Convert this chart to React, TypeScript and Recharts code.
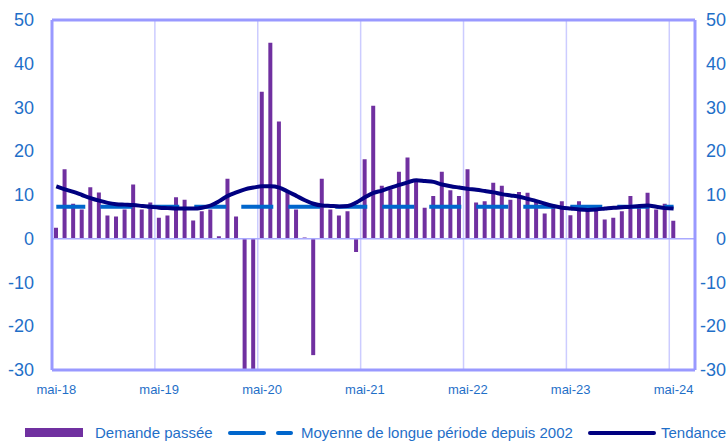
import React from 'react';
import {
  ComposedChart,
  Bar,
  Line,
  XAxis,
  YAxis,
  CartesianGrid,
  ReferenceLine,
} from 'recharts';

// Monthly values, mai-18 .. mai-24
const demandePassee = [
  2.5, 15.9, 8.0, 6.7, 11.8, 10.6, 5.3, 5.1, 6.7, 12.4, 6.7, 8.3,
  4.8, 5.3, 9.5, 8.9, 4.2, 6.3, 6.7, 0.6, 13.7, 5.1, -33, -31,
  33.6, 44.8, 26.8, 10.5, 6.7, 0.3, -26.6, 13.7, 6.7, 5.3, 6.3, -3.0,
  18.2, 30.4, 12.1, 11.3, 15.3, 18.6, 13.6, 7.1, 9.8, 15.3, 11.1, 9.8,
  15.9, 8.3, 8.6, 12.8, 12.1, 8.9, 10.7, 10.5, 8.5, 5.8, 7.1, 8.6,
  5.4, 8.6, 7.1, 6.7, 4.4, 4.8, 6.3, 9.8, 7.1, 10.5, 6.7, 8.0,
  4.1,
];

const tendance = [
  12.0, 11.3, 10.7, 10.0, 9.3, 8.7, 8.2, 7.9, 7.8, 7.7, 7.5, 7.3,
  7.1, 7.0, 6.9, 6.9, 6.9, 7.1, 7.6, 8.6, 9.8, 10.6, 11.3, 11.7,
  12.0, 12.0, 11.7, 10.8, 9.8, 8.8, 8.0, 7.6, 7.5, 7.4, 7.5, 8.3,
  9.5, 10.5, 11.0, 11.7, 12.3, 12.9, 13.4, 13.2, 13.0, 12.4, 12.0, 11.7,
  11.4, 11.2, 10.9, 10.6, 10.2, 9.9, 9.6, 9.1, 8.6, 8.0, 7.5, 7.1,
  6.9, 6.7, 6.6, 6.7, 6.9, 7.1, 7.2, 7.3, 7.5, 7.6, 7.3, 7.0,
  6.9,
];

const moyenneLongue = 7.3;

const tickLabels = ['mai-18', 'mai-19', 'mai-20', 'mai-21', 'mai-22', 'mai-23', 'mai-24'];
const xTicks = tickLabels.map((_, i) => i * 12);
const yTicks = [-30, -20, -10, 0, 10, 20, 30, 40, 50];

const BLUE_TEXT = '#1F6FC8';
const FONT = '"Liberation Sans", Arial, sans-serif';

const data = demandePassee.map((v, i) => ({
  x: i + 0.5,
  demande: v,
  moyenne: moyenneLongue,
  tendance: tendance[i],
}));

// label sits on the month's bar, gridline on the month boundary
const XTick = (props: any) => {
  const { x, y, payload } = props;
  const label = tickLabels[payload.value / 12];
  return (
    <text x={x + 4.3} y={y + 16} textAnchor="middle" fill={BLUE_TEXT} fontSize={13} fontFamily={FONT}>
      {label}
    </text>
  );
};

const LeftTick = (props: any) => {
  const { y, payload } = props;
  return (
    <text x={34} y={y + 6} textAnchor="end" fill={BLUE_TEXT} fontSize={18} fontFamily={FONT}>
      {payload.value}
    </text>
  );
};

const RightTick = (props: any) => {
  const { y, payload } = props;
  return (
    <text x={726} y={y + 6} textAnchor="end" fill={BLUE_TEXT} fontSize={18} fontFamily={FONT}>
      {payload.value}
    </text>
  );
};

function ChartLegend() {
  return (
    <svg
      width={728}
      height={24}
      style={{ position: 'absolute', left: 0, top: 421 }}
      fontFamily={FONT}
      fontSize={15}
    >
      <rect x={25} y={7} width={58} height={9} fill="#7030A0" />
      <text x={95} y={17} fill={BLUE_TEXT}>Demande passée</text>
      <line x1={230} y1={12} x2={264} y2={12} stroke="#0066CC" strokeWidth={4} strokeLinecap="round" />
      <line x1={278} y1={12} x2={291} y2={12} stroke="#0066CC" strokeWidth={4} strokeLinecap="round" />
      <text x={301} y={17} fill={BLUE_TEXT}>Moyenne de longue période depuis 2002</text>
      <line x1={590} y1={12} x2={654} y2={12} stroke="#000080" strokeWidth={4} strokeLinecap="round" />
      <text x={661} y={17} fill={BLUE_TEXT}>Tendance</text>
    </svg>
  );
}

export default function App() {
  return (
    <div style={{ position: 'absolute', left: 0, top: 0, width: 728, height: 441, background: '#fff', overflow: 'hidden' }}>
      <ComposedChart
        width={728}
        height={441}
        data={data}
        margin={{ top: 20, right: 0, left: 0, bottom: 41 }}
      >
        <CartesianGrid stroke="#CCCCFF" strokeWidth={1.5} ticks={xTicks} />
        <XAxis
          dataKey="x"
          type="number"
          domain={[0, 75]}
          ticks={xTicks}
          interval={0}
          height={30}
          axisLine={false}
          tickLine={false}
          tick={<XTick />}
        />
        <YAxis
          yAxisId="left"
          domain={[-30, 50]}
          ticks={yTicks}
          allowDataOverflow
          width={52}
          axisLine={false}
          tickLine={false}
          tick={<LeftTick />}
        />
        <YAxis
          yAxisId="right"
          orientation="right"
          domain={[-30, 50]}
          ticks={yTicks}
          allowDataOverflow
          width={33}
          axisLine={false}
          tickLine={false}
          tick={<RightTick />}
        />
        <ReferenceLine yAxisId="left" y={0} stroke="#AAAAFF" strokeWidth={1.5} />
        <Bar
          yAxisId="left"
          dataKey="demande"
          fill="#7030A0"
          barSize={4}
          isAnimationActive={false}
        />
        <Line
          yAxisId="left"
          dataKey="moyenne"
          stroke="#0066CC"
          strokeWidth={4}
          strokeDasharray="32 15"
          strokeDashoffset={3}
          dot={false}
          isAnimationActive={false}
        />
        <Line
          yAxisId="left"
          dataKey="tendance"
          type="monotone"
          stroke="#000080"
          strokeWidth={4}
          dot={false}
          isAnimationActive={false}
        />
        <ReferenceLine yAxisId="left" y={50} stroke="#9999FF" strokeWidth={3} />
        <ReferenceLine yAxisId="left" y={-30} stroke="#9999FF" strokeWidth={3} />
        <ReferenceLine yAxisId="left" x={0} stroke="#9999FF" strokeWidth={3} />
        <ReferenceLine yAxisId="left" x={75} stroke="#9999FF" strokeWidth={3} />
      </ComposedChart>
      <ChartLegend />
    </div>
  );
}
